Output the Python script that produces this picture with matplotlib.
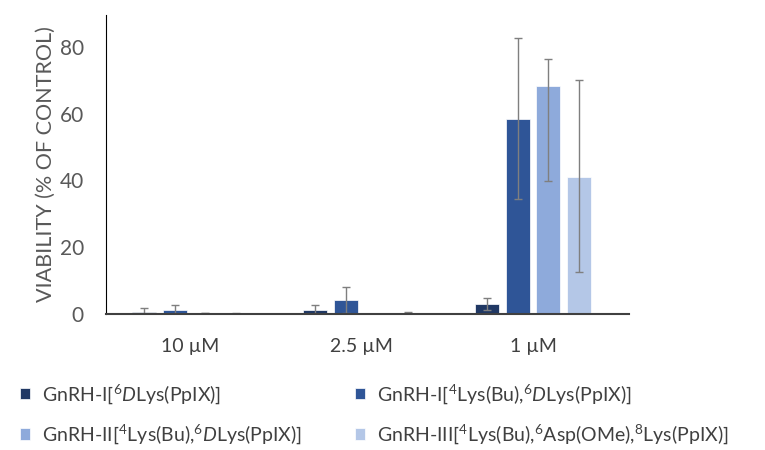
import numpy as np
import matplotlib
matplotlib.use("Agg")
import matplotlib.pyplot as plt

plt.rcParams['font.family'] = ['Lato', 'DejaVu Sans']
plt.rcParams['mathtext.fontset'] = 'custom'
plt.rcParams['mathtext.rm'] = 'Lato'
plt.rcParams['mathtext.it'] = 'Lato:italic'

concentrations = ['10 µM', '2.5 µM', '1 µM']
series_names = [
    r'GnRH-I[$^{6}\mathit{D}$Lys(PpIX)]',
    r'GnRH-I[$^{4}$Lys(Bu),$^{6}\mathit{D}$Lys(PpIX)]',
    r'GnRH-II[$^{4}$Lys(Bu),$^{6}\mathit{D}$Lys(PpIX)]',
    r'GnRH-III[$^{4}$Lys(Bu),$^{6}$Asp(OMe),$^{8}$Lys(PpIX)]',
]
s1 = [0.6, 1.1, 2.9]
s2 = [1.1, 4.3, 58.5]
s3 = [0.2, 0.0, 68.3]
s4 = [0.2, 0.2, 41.0]
err_lo = [[1.3, 1.6, 1.6], [1.5, 3.9, 24.0], [0.0, 0.0, 28.5], [0.2, 0.5, 28.5]]
err_hi = [[1.3, 1.6, 1.8], [1.5, 3.9, 24.0], [0.0, 0.0, 8.0], [0.2, 0.5, 29.0]]
colors = ['#203864', '#2f5597', '#8eaadb', '#b4c7e7']

fig = plt.figure(figsize=(7.65, 4.5), dpi=100)
ax = fig.add_axes([106/765, 1-314/450, (629-106)/765, (314-15)/450])

x = np.arange(len(concentrations))
w = 0.14
step = 0.18
handles = []
for i, vals in enumerate([s1, s2, s3, s4]):
    pos = x + (i - 1.5) * step
    b = ax.bar(pos, vals, w, color=colors[i], edgecolor='white', linewidth=0.5,
               yerr=[err_lo[i], err_hi[i]], capsize=3,
               error_kw=dict(ecolor='#7f7f7f', elinewidth=1, capthick=1),
               label=series_names[i], zorder=2)
    handles.append(b)

ax.set_xlim(-0.49, 2.56)
ax.set_ylim(0, 89.5)
ax.set_yticks([0, 20, 40, 60, 80])
ax.set_xticks(x)
ax.set_xticklabels(concentrations, fontsize=14, color='#404040')
ax.tick_params(axis='y', length=0, labelsize=15, labelcolor='#595959', pad=16)
ax.tick_params(axis='x', length=0, pad=17)
ax.set_ylabel('VIABILITY (% OF CONTROL)', fontsize=15.5, color='#595959', labelpad=3)
for sp in ['top', 'right']:
    ax.spines[sp].set_visible(False)
ax.spines['left'].set_color('black')
ax.spines['bottom'].set_color('#404040')
ax.spines['bottom'].set_linewidth(1.5)

order = [0, 2, 1, 3]
leg = fig.legend([handles[k] for k in order], [series_names[k] for k in order],
                 ncol=2, loc='upper left', bbox_to_anchor=(0.003, 0.19),
                 frameon=False, fontsize=14, handlelength=0.55, handleheight=0.55,
                 handletextpad=0.6, columnspacing=2.7, labelspacing=0.85,
                 labelcolor='#404040')

fig.savefig('out.png', dpi=100)
